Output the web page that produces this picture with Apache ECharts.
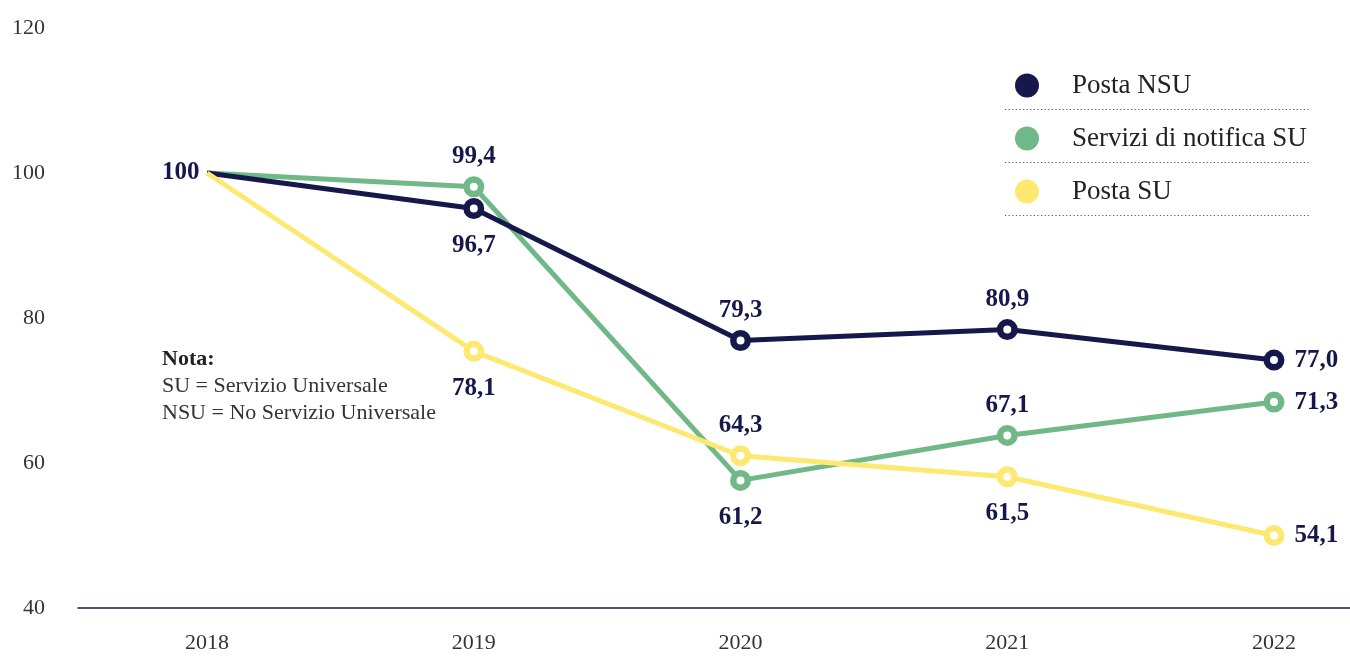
<!DOCTYPE html>
<html>
<head>
<meta charset="utf-8">
<script src="https://cdn.jsdelivr.net/npm/echarts@6/dist/echarts.min.js"></script>
<style>
html,body{margin:0;padding:0;background:#fff;}
#chart{width:1350px;height:656px;}
</style>
</head>
<body>
<div id="chart"></div>
<script>
// ---- data ----
const years = [2018, 2019, 2020, 2021, 2022];
const yTicks = [40, 60, 80, 100, 120];
const seriesNames = ['Posta NSU', 'Servizi di notifica SU', 'Posta SU'];
const postaNSU = [100, 95.1, 76.9, 78.4, 74.2];
const notificaSU = [100, 98.1, 57.6, 63.8, 68.4];
const postaSU = [100, 75.4, 61.0, 58.1, 50.0];
const postaNSULabels = ['100', '96,7', '79,3', '80,9', '77,0'];
const notificaSULabels = ['', '99,4', '61,2', '67,1', '71,3'];
const postaSULabels = ['', '78,1', '64,3', '61,5', '54,1'];
const noteTitle = 'Nota:';
const noteLines = ['SU = Servizio Universale', 'NSU = No Servizio Universale'];

// ---- styles ----
const FONT = '"Liberation Serif", "DejaVu Serif", serif';
const NAVY = '#16174a';
const GREEN = '#70b888';
const YELLOW = '#fde872';
const labelPositions = [
  ['left', 'bottom', 'top', 'top', 'right'],
  ['top', 'top', 'bottom', 'top', 'right'],
  ['top', 'bottom', 'top', 'bottom', 'right']
];
const distances = { left: 7, right: 10, bottom: 14, top: 7 };

const chart = echarts.init(document.getElementById('chart'));

function makeSeries(name, values, labels, color, posArr, z) {
  return {
    name: name,
    type: 'line',
    z: z,
    data: years.map((y, i) => {
      const item = {
        value: [y, values[i]],
        label: {
          show: labels[i] !== '',
          position: posArr[i],
          distance: distances[posArr[i]]
        }
      };
      if (i === 0) {
        item.symbolSize = 1;
        item.itemStyle = { color: 'rgba(0,0,0,0)', borderWidth: 0 };
      }
      return item;
    }),
    symbol: 'circle',
    symbolSize: 14.5,
    showAllSymbol: true,
    lineStyle: { color: color, width: 5 },
    itemStyle: { color: '#ffffff', borderColor: color, borderWidth: 6.5 },
    label: {
      show: true,
      fontFamily: FONT,
      fontWeight: 'bold',
      fontSize: 25,
      color: NAVY,
      formatter: p => labels[p.dataIndex]
    },
    emphasis: { disabled: true },
    animation: false
  };
}

const option = {
  animation: false,
  grid: { left: 78, right: 0, top: 28, bottom: 48, containLabel: false },
  xAxis: {
    type: 'value',
    min: 2017.516,
    max: 2022.285,
    axisLine: { show: true, lineStyle: { color: NAVY, width: 1.5 } },
    axisTick: { show: false },
    splitLine: { show: false },
    axisLabel: {
      customValues: years,
      formatter: v => String(v),
      fontFamily: FONT,
      fontSize: 22,
      color: '#333333',
      margin: 24
    }
  },
  yAxis: {
    type: 'value',
    min: yTicks[0],
    max: yTicks[yTicks.length - 1],
    interval: 20,
    axisLine: { show: false },
    axisTick: { show: false },
    splitLine: { show: false },
    axisLabel: {
      fontFamily: FONT,
      fontSize: 22,
      color: '#333333',
      margin: 33
    }
  },
  legend: {
    data: [
      { name: seriesNames[0], itemStyle: { color: NAVY, borderWidth: 0 } },
      { name: seriesNames[1], itemStyle: { color: GREEN, borderWidth: 0 } },
      { name: seriesNames[2], itemStyle: { color: YELLOW, borderWidth: 0 } }
    ],
    orient: 'vertical',
    left: 1010,
    top: 67,
    icon: 'circle',
    itemWidth: 24,
    itemHeight: 24,
    itemGap: 26,
    selectedMode: false,
    textStyle: {
      fontFamily: FONT,
      fontSize: 27,
      color: '#222222',
      lineHeight: 24,
      padding: [0, 0, 0, 28]
    }
  },
  graphic: [
    { type: 'line', shape: { x1: 1005, y1: 109.5, x2: 1310, y2: 109.5 }, style: { stroke: '#555', lineWidth: 1.2, lineDash: [1.2, 2.4] }, silent: true },
    { type: 'line', shape: { x1: 1005, y1: 162.5, x2: 1310, y2: 162.5 }, style: { stroke: '#555', lineWidth: 1.2, lineDash: [1.2, 2.4] }, silent: true },
    { type: 'line', shape: { x1: 1005, y1: 215.5, x2: 1310, y2: 215.5 }, style: { stroke: '#555', lineWidth: 1.2, lineDash: [1.2, 2.4] }, silent: true },
    {
      type: 'text',
      left: 162,
      top: 346,
      silent: true,
      style: {
        text: '{b|' + noteTitle + '}\n' + noteLines.join('\n'),
        fontFamily: FONT,
        fontSize: 22,
        lineHeight: 27,
        fill: '#333333',
        rich: {
          b: { fontFamily: FONT, fontSize: 22, fontWeight: 'bold', fill: '#222222', lineHeight: 27 }
        }
      }
    }
  ],
  series: [
    makeSeries(seriesNames[0], postaNSU, postaNSULabels, NAVY, labelPositions[0], 3),
    makeSeries(seriesNames[1], notificaSU, notificaSULabels, GREEN, labelPositions[1], 2),
    makeSeries(seriesNames[2], postaSU, postaSULabels, YELLOW, labelPositions[2], 4)
  ]
};
chart.setOption(option);
</script>
</body>
</html>
